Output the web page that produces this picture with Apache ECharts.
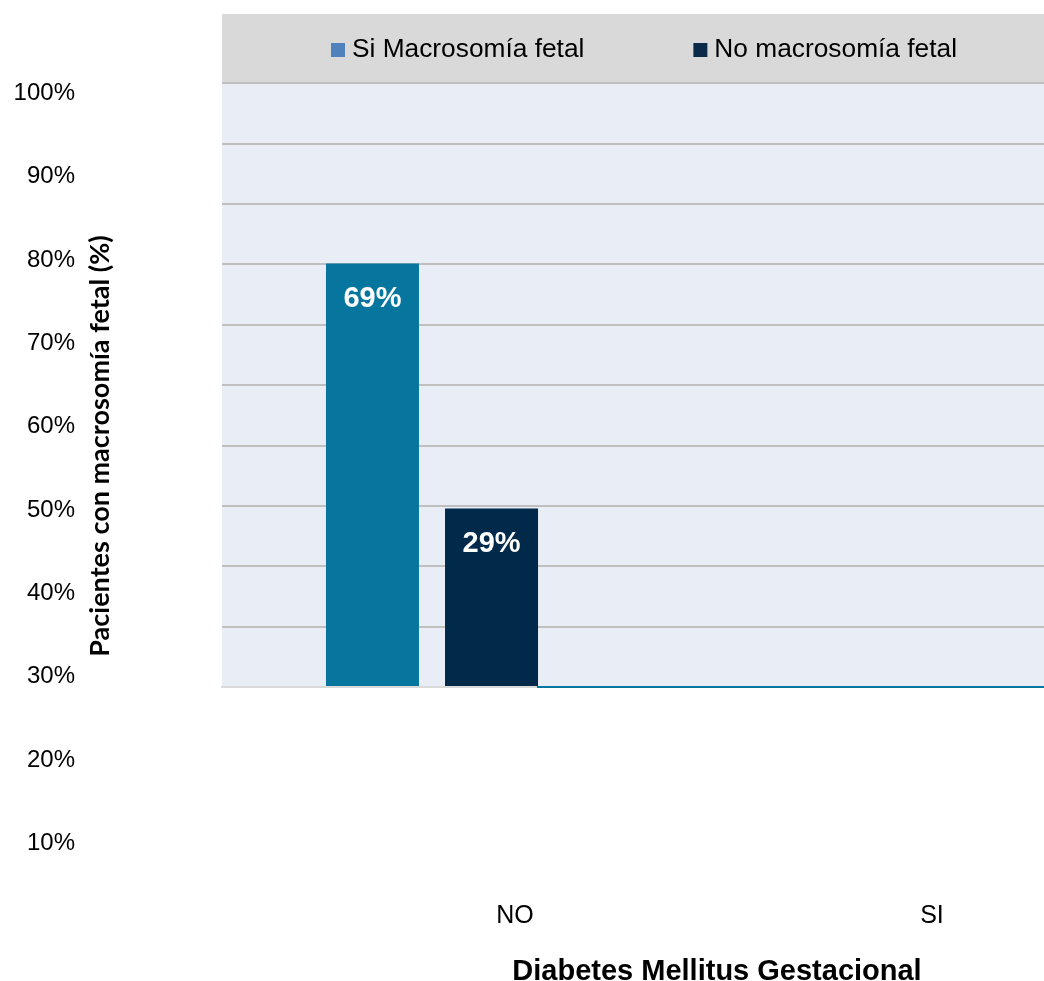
<!DOCTYPE html>
<html>
<head>
<meta charset="utf-8">
<script src="https://cdn.jsdelivr.net/npm/echarts@6/dist/echarts.min.js"></script>
<style>
  html, body { margin: 0; padding: 0; background: #ffffff; }
  #chart { width: 1044px; height: 981px; }
</style>
</head>
<body>
<div id="chart"></div>
<script>
// Gestational diabetes groups and share of patients with / without fetal macrosomia (%)
const categories = ['NO', 'SI'];
const seriesNames = ['Si Macrosomía fetal', 'No macrosomía fetal'];
const siMacrosomia = [69, null];
const noMacrosomia = [29, null];
const axisTitleX = 'Diabetes Mellitus Gestacional';
const axisTitleY = 'Pacientes con macrosomía fetal (%)';

const FONT = "'Liberation Sans', Arial, sans-serif";
const hidden = { show: false };

const chart = echarts.init(document.getElementById('chart'), null, { renderer: 'canvas' });

const barLabel = {
  show: true, position: 'insideTop', distance: 21,
  formatter: '{c}%', color: '#ffffff',
  fontFamily: FONT, fontSize: 29, fontWeight: 'bold'
};

chart.setOption({
  backgroundColor: '#ffffff',
  animation: false,
  textStyle: { fontFamily: FONT },
  legend: {
    left: 331,
    top: 37,
    padding: 0,
    icon: 'rect',
    itemWidth: 14,
    itemHeight: 14,
    itemGap: 109,
    itemStyle: { borderWidth: 0 },
    textStyle: { fontFamily: FONT, fontSize: 26.3, color: '#000000', padding: [0, 0, 0, 2] },
    data: [
      { name: seriesNames[0], itemStyle: { color: '#4F81BD' } },
      { name: seriesNames[1], itemStyle: { color: '#0B2A4A' } }
    ]
  },
  grid: [
    // legend band
    { left: 222, right: 0, top: 14, height: 69, show: true, backgroundColor: '#D9D9D9', borderWidth: 0, outerBoundsMode: 'none' },
    // plot background with gridlines
    { left: 222, right: 0, top: 83, bottom: 294, show: true, backgroundColor: '#E9EDF5', borderWidth: 0, outerBoundsMode: 'none' },
    // bars
    { left: 228, right: 0, top: 83, bottom: 295, outerBoundsMode: 'none' },
    // percentage scale on the left
    { left: 80, width: 10, top: 93.5, bottom: 54.5, outerBoundsMode: 'none' },
    // category labels and x axis title
    { left: 515, right: 112, top: 882, height: 20, outerBoundsMode: 'none' }
  ],
  xAxis: [
    { gridIndex: 0, type: 'category', data: categories, show: false },
    {
      gridIndex: 1, type: 'category', data: categories,
      axisLabel: hidden, axisTick: hidden, splitLine: hidden,
      axisLine: {
        show: true,
        lineStyle: {
          width: 2.2,
          color: {
            type: 'linear', x: 0, y: 0, x2: 1, y2: 0,
            colorStops: [
              { offset: 0, color: '#D9D9D9' },
              { offset: 0.3844, color: '#D9D9D9' },
              { offset: 0.3845, color: '#06769E' },
              { offset: 1, color: '#06769E' }
            ]
          }
        }
      }
    },
    { gridIndex: 2, type: 'category', data: categories, show: false },
    { gridIndex: 3, type: 'category', data: categories, show: false },
    {
      gridIndex: 4, type: 'category', data: categories, boundaryGap: false,
      axisLine: hidden, axisTick: hidden, splitLine: hidden,
      axisLabel: { fontFamily: FONT, fontSize: 25, color: '#000000', margin: 2 },
      name: axisTitleX,
      nameLocation: 'middle',
      nameGap: 55,
      nameTextStyle: { fontFamily: FONT, fontSize: 29, fontWeight: 'bold', color: '#000000', padding: [0, 13, 0, 0] }
    }
  ],
  yAxis: [
    { gridIndex: 0, type: 'value', show: false },
    {
      gridIndex: 1, type: 'value', min: 0, max: 100, interval: 10,
      axisLabel: hidden, axisTick: hidden, axisLine: hidden,
      splitLine: { show: true, lineStyle: { color: '#BFBFBF', width: 2 } }
    },
    { gridIndex: 2, type: 'value', min: 0, max: 98.5, show: false },
    {
      gridIndex: 3, type: 'value', min: 0, max: 100, interval: 10,
      axisLine: hidden, axisTick: hidden, splitLine: hidden,
      axisLabel: {
        showMinLabel: false, margin: 5,
        fontFamily: FONT, fontSize: 24, color: '#000000',
        formatter: '{value}%'
      }
    },
    { gridIndex: 4, type: 'value', show: false }
  ],
  graphic: [
    {
      type: 'text',
      x: 100,
      y: 446,
      rotation: Math.PI / 2,
      style: {
        text: axisTitleY,
        fill: '#000000',
        font: "bold 27px Lato, 'Open Sans', sans-serif",
        align: 'center',
        verticalAlign: 'middle'
      }
    }
  ],
  series: [
    {
      name: seriesNames[0],
      type: 'bar',
      xAxisIndex: 2,
      yAxisIndex: 2,
      data: siMacrosomia,
      barWidth: 93,
      barGap: '28%',
      itemStyle: { color: '#06769E' },
      label: barLabel
    },
    {
      name: seriesNames[1],
      type: 'bar',
      xAxisIndex: 2,
      yAxisIndex: 2,
      data: noMacrosomia,
      barWidth: 93,
      barGap: '28%',
      itemStyle: { color: '#00294A' },
      label: barLabel
    }
  ]
});
</script>
</body>
</html>
